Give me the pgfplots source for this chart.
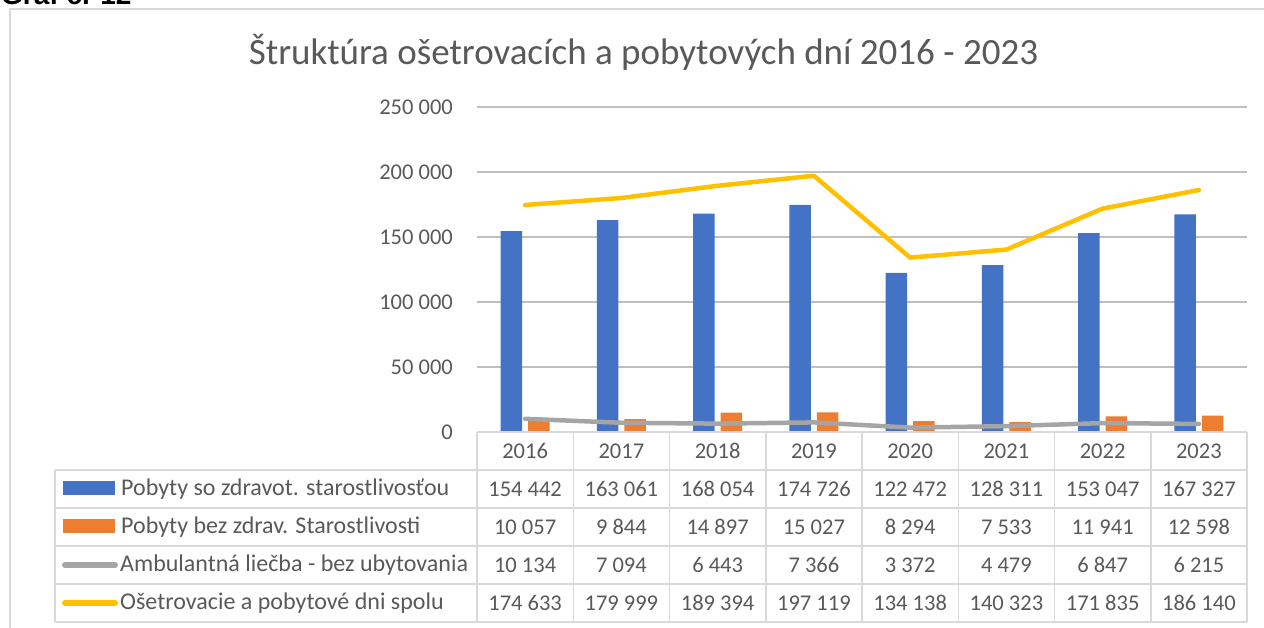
\documentclass[border=0pt]{standalone}
\usepackage{pgfplots}
\pgfplotsset{compat=1.18}
\usepackage{fontspec}
\setmainfont{Carlito}
\newfontfamily\arialfont{Liberation Sans}
\definecolor{cblue}{HTML}{4472C4}
\definecolor{corange}{HTML}{ED7D31}
\definecolor{cgray}{HTML}{A5A5A5}
\definecolor{cyellow}{HTML}{FFC000}
\definecolor{grid}{HTML}{D9D9D9}
\definecolor{txt}{HTML}{595959}
\newcommand{\tf}{\fontsize{22.5}{26}\selectfont}
\newcommand{\lf}{\fontsize{24}{28}\selectfont}
\begin{document}
\begin{tikzpicture}[x=1pt,y=1pt]
\path[use as bounding box] (0,0) rectangle (1264,628);
% chart border
\draw[grid, line width=1.5pt] (10,0) -- (10,619) -- (1270,619);
% cut-off heading
\node[anchor=base west, inner sep=0pt, font=\arialfont\bfseries\fontsize{28}{30}\selectfont] at (1,623) {Graf č. 12};
% title
\node[anchor=base, inner sep=0pt, text=txt, font=\fontsize{37}{42}\selectfont] at (643.5,563) {Štruktúra ošetrovacích a pobytových dní 2016 - 2023};
\begin{axis}[
  at={(477pt,196pt)}, anchor=south west, scale only axis,
  width=770pt, height=325pt,
  xmin=-0.5, xmax=7.5, ymin=0, ymax=250000,
  axis line style={draw=none},
  xtick=\empty,
  scaled y ticks=false,
  ytick={0,50000,100000,150000,200000,250000},
  yticklabels={0,50 000,100 000,150 000,200 000,250 000},
  yticklabel style={inner sep=0pt, xshift=-24pt, text=txt, font=\tf},
  major tick style={draw=none},
  ymajorgrids, grid style={grid, line width=1.5pt},
  clip=false,
]
\addplot[ybar, bar width=21.5pt, bar shift=-13.7pt, fill=cblue, draw=none] coordinates
 {(0,154442) (1,163061) (2,168054) (3,174726) (4,122472) (5,128311) (6,153047) (7,167327)};
\addplot[ybar, bar width=21.5pt, bar shift=13.7pt, fill=corange, draw=none] coordinates
 {(0,10057) (1,9844) (2,14897) (3,15027) (4,8294) (5,7533) (6,11941) (7,12598)};
\addplot[cgray, line width=4.5pt, line join=round, line cap=round, mark=none] coordinates
 {(0,10134) (1,7094) (2,6443) (3,7366) (4,3372) (5,4479) (6,6847) (7,6215)};
\addplot[cyellow, line width=4.5pt, line join=round, line cap=round, mark=none] coordinates
 {(0,174633) (1,179999) (2,189394) (3,197119) (4,134138) (5,140323) (6,171835) (7,186140)};
\end{axis}
% data table grid
\begin{scope}[grid, line width=1.5pt]
\draw (477,196) -- (1247,196);
\foreach \yy in {158,120,82,44,6} \draw (55,\yy) -- (1247,\yy);
\draw (55,158) -- (55,6);
\foreach \k in {0,...,8} \draw ({477+96.25*\k},196) -- ({477+96.25*\k},6);
\end{scope}
% years
\foreach \yr [count=\i from 0] in {2016,2017,2018,2019,2020,2021,2022,2023}
  \node[text=txt, font=\tf, inner sep=0pt] at ({477+96.25*(\i+0.5)},177) {\yr};
% row values
\foreach \v [count=\i from 0] in {154 442,163 061,168 054,174 726,122 472,128 311,153 047,167 327}
  \node[text=txt, font=\tf, inner sep=0pt] at ({477+96.25*(\i+0.5)},139) {\v};
\foreach \v [count=\i from 0] in {10 057,9 844,14 897,15 027,8 294,7 533,11 941,12 598}
  \node[text=txt, font=\tf, inner sep=0pt] at ({477+96.25*(\i+0.5)},101) {\v};
\foreach \v [count=\i from 0] in {10 134,7 094,6 443,7 366,3 372,4 479,6 847,6 215}
  \node[text=txt, font=\tf, inner sep=0pt] at ({477+96.25*(\i+0.5)},63) {\v};
\foreach \v [count=\i from 0] in {174 633,179 999,189 394,197 119,134 138,140 323,171 835,186 140}
  \node[text=txt, font=\tf, inner sep=0pt] at ({477+96.25*(\i+0.5)},25) {\v};
% legend keys
\fill[cblue] (63,133) rectangle (115,147);
\fill[corange] (63,95) rectangle (115,109);
\draw[cgray, line width=6pt, line cap=round] (65,63) -- (115,63);
\draw[cyellow, line width=6pt, line cap=round] (65,25) -- (115,25);
\node[anchor=west, inner sep=0pt, text=txt, font=\lf] at (121,139) {Pobyty so zdravot. starostlivosťou};
\node[anchor=west, inner sep=0pt, text=txt, font=\lf] at (121,101) {Pobyty bez zdrav. Starostlivosti};
\node[anchor=west, inner sep=0pt, text=txt, font=\lf] at (120,63) {Ambulantná liečba - bez ubytovania};
\node[anchor=west, inner sep=0pt, text=txt, font=\lf] at (120,25) {Ošetrovacie a pobytové dni spolu};
\end{tikzpicture}
\end{document}
